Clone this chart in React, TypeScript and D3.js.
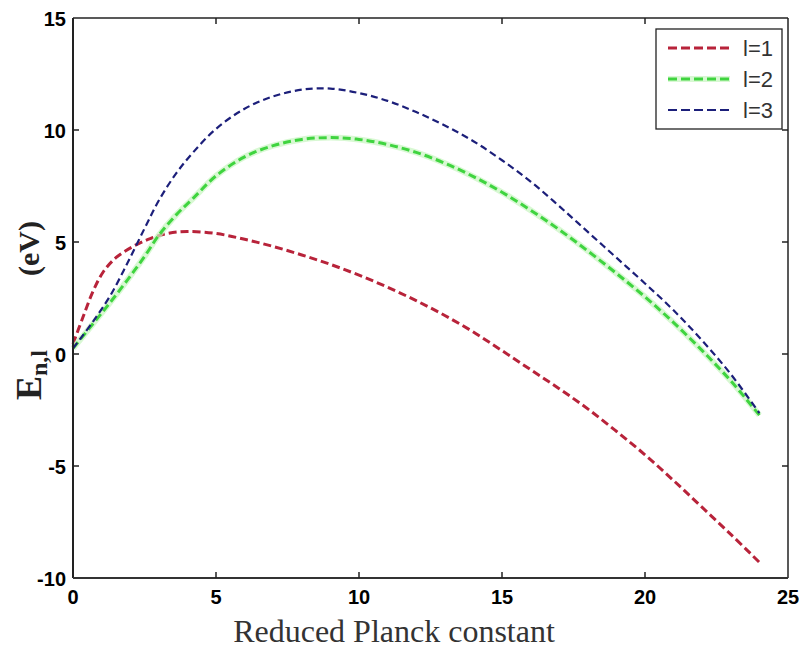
import React from "react";
import * as d3 from "d3";

const xTicks = [0, 5, 10, 15, 20, 25];
const yTicks = [-10, -5, 0, 5, 10, 15];

const l1X = [0, 0.35, 0.7, 1.05, 1.5, 2.1, 2.7, 3.3, 4, 5, 6, 7, 8, 9, 10, 11, 12, 13, 14, 15, 16, 17, 18, 19, 20, 21, 22, 23, 24];
const l1Y = [0.45, 1.65, 2.8, 3.65, 4.3, 4.8, 5.15, 5.38, 5.47, 5.38, 5.12, 4.8, 4.42, 4.0, 3.52, 2.98, 2.38, 1.72, 0.98, 0.15, -0.7, -1.55, -2.45, -3.45, -4.5, -5.65, -6.85, -8.05, -9.3];

const l2X = [0, 0.7, 1.3, 1.9, 2.5, 3.0, 3.6, 4.2, 5, 6, 7, 8, 9, 10, 11, 12, 13, 14, 15, 16, 17, 18, 19, 20, 21, 22, 23, 24];
const l2Y = [0.25, 1.35, 2.3, 3.3, 4.35, 5.3, 6.2, 6.95, 7.95, 8.8, 9.3, 9.58, 9.66, 9.58, 9.35, 9.0, 8.52, 7.92, 7.22, 6.42, 5.55, 4.6, 3.6, 2.55, 1.4, 0.15, -1.2, -2.73];

const l3X = [0, 0.7, 1.3, 1.9, 2.5, 3.0, 3.6, 4.2, 5, 6, 7, 8, 9, 10, 11, 12, 13, 14, 15, 16, 17, 18, 19, 20, 21, 22, 23, 24];
const l3Y = [0.25, 1.45, 2.6, 4.05, 5.6, 6.85, 8.05, 9.0, 10.05, 10.95, 11.5, 11.8, 11.85, 11.65, 11.3, 10.8, 10.2, 9.5, 8.65, 7.7, 6.6, 5.45, 4.3, 3.15, 1.95, 0.6, -0.9, -2.64];

const seriesNames = ["l=1", "l=2", "l=3"];
const colors = ["#b8233a", "#3fd43f", "#1c1f7a"];
const widths = [3, 3, 2.2];

export default function App() {
  const W = 802, H = 650;
  const left = 73, right = 788, top = 18, bottom = 578;
  const x = d3.scaleLinear().domain([0, 25]).range([left, right]);
  const y = d3.scaleLinear().domain([-10, 15]).range([bottom, top]);
  const line = d3
    .line<[number, number]>()
    .x((d) => x(d[0]))
    .y((d) => y(d[1]))
    .curve(d3.curveCatmullRom.alpha(0.5));
  const data = [
    l1X.map((v, i) => [v, l1Y[i]] as [number, number]),
    l2X.map((v, i) => [v, l2Y[i]] as [number, number]),
    l3X.map((v, i) => [v, l3Y[i]] as [number, number]),
  ];
  const tickLen = 6;
  return (
    <svg width={W} height={H} style={{ position: "absolute", left: 0, top: 0, background: "#fff" }}>
      <rect x={0} y={0} width={W} height={H} fill="#fff" />
      {data.map((d, i) => (
        <g key={i}>
          {i === 1 && (
            <path d={line(d) || ""} fill="none" stroke="#c8f5c0" strokeWidth={6} strokeOpacity={0.7} />
          )}
          <path
            d={line(d) || ""}
            fill="none"
            stroke={colors[i]}
            strokeWidth={widths[i]}
            strokeDasharray={i === 2 ? "7,4" : "8,4"}
          />
        </g>
      ))}
      <line x1={left} x2={right} y1={top} y2={top} stroke="#222" strokeWidth={1.5} />
      <line x1={right} x2={right} y1={top} y2={bottom} stroke="#222" strokeWidth={1.5} />
      <line x1={left} x2={left} y1={top} y2={bottom} stroke="#222" strokeWidth={2} />
      <line x1={left} x2={right} y1={bottom} y2={bottom} stroke="#333" strokeWidth={2.2} />
      {xTicks.map((t) => (
        <g key={"x" + t}>
          {t > 0 && t < 25 && (
            <>
              <line x1={x(t)} x2={x(t)} y1={bottom} y2={bottom - tickLen} stroke="#222" strokeWidth={1.5} />
              <line x1={x(t)} x2={x(t)} y1={top} y2={top + tickLen} stroke="#222" strokeWidth={1.5} />
            </>
          )}
          <text
            x={x(t)}
            y={bottom + 26}
            textAnchor="middle"
            fontFamily="Liberation Sans, Arial, sans-serif"
            fontWeight="bold"
            fontSize={20}
            fill="#000"
          >
            {t}
          </text>
        </g>
      ))}
      {yTicks.map((t) => (
        <g key={"y" + t}>
          {t > -10 && t < 15 && (
            <>
              <line x1={left} x2={left + tickLen} y1={y(t)} y2={y(t)} stroke="#222" strokeWidth={1.5} />
              <line x1={right} x2={right - tickLen} y1={y(t)} y2={y(t)} stroke="#222" strokeWidth={1.5} />
            </>
          )}
          <text
            x={left - 7}
            y={y(t) + 7.5}
            textAnchor="end"
            fontFamily="Liberation Sans, Arial, sans-serif"
            fontWeight="bold"
            fontSize={20}
            fill="#000"
          >
            {t}
          </text>
        </g>
      ))}
      <text
        x={394}
        y={642}
        textAnchor="middle"
        fontFamily="Liberation Serif, Times New Roman, serif"
        fontSize={32}
        fill="#333"
      >
        Reduced Planck constant
      </text>
      <text
        transform={`translate(41, 400) rotate(-90)`}
        textAnchor="start"
        fontFamily="Liberation Serif, Times New Roman, serif"
        fontWeight="bold"
        fontSize={36}
        fill="#222"
      >
        E
        <tspan fontSize={24} dy={6}>n,l</tspan>
      </text>
      <text
        transform={`translate(39, 276) rotate(-90)`}
        textAnchor="start"
        fontFamily="Liberation Serif, Times New Roman, serif"
        fontWeight="bold"
        fontSize={30}
        fill="#222"
      >
        (eV)
      </text>
      <rect x={656} y={29} width={126} height={100} fill="#fff" stroke="#222" strokeWidth={1.3} />
      {seriesNames.map((n, i) => {
        const ly = 48 + i * 31;
        return (
          <g key={n}>
            {i === 1 && <line x1={668} x2={730} y1={ly} y2={ly} stroke="#c8f5c0" strokeWidth={6} strokeOpacity={0.7} />}
            <line
              x1={668}
              x2={730}
              y1={ly}
              y2={ly}
              stroke={colors[i]}
              strokeWidth={widths[i]}
              strokeDasharray="9,4"
            />
            <text
              x={743}
              y={ly + 8}
              fontFamily="Liberation Sans, Arial, sans-serif"
              fontSize={22}
              fill="#333"
            >
              {n}
            </text>
          </g>
        );
      })}
    </svg>
  );
}
